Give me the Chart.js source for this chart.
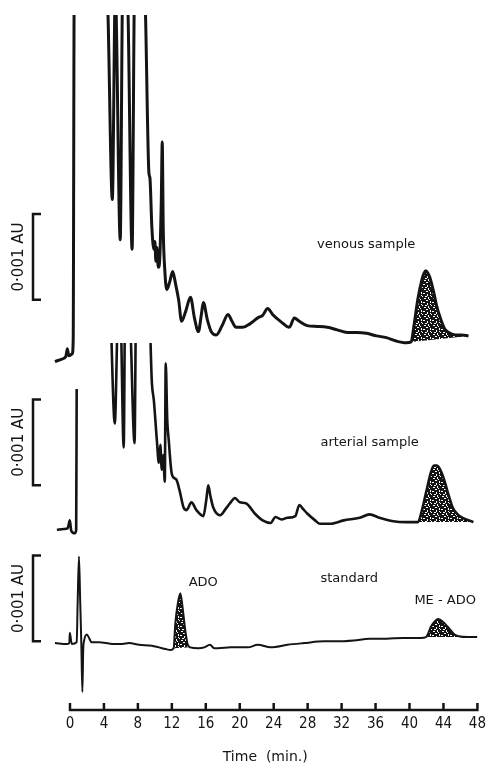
<!DOCTYPE html>
<html>
<head>
<meta charset="utf-8">
<title>HPLC chromatograms</title>
<script src="https://cdn.jsdelivr.net/npm/chart.js@4.4.1/dist/chart.umd.min.js"></script>
<style>
  body { margin: 0; background: #fff; }
  #wrap { width: 491px; height: 764px; }
</style>
</head>
<body>
<div id="wrap"><canvas id="chromChart" width="491" height="764"></canvas></div>
<script>
// time axis (min)
const timeTicks = [0, 4, 8, 12, 16, 20, 24, 28, 32, 36, 40, 44, 48];

// traces: [time (min), absorbance in mAU above the level the trace starts at]
// 4.3 / 2.6 = pen off scale, null = no visible trace
const venous = [
  [-1.77, 0], [-0.96, 0.03], [-0.49, 0.06], [-0.31, 0.15], [-0.14, 0.07], [0.27, 0.09],
  [0.38, 0.26], [0.50, 4.3], [4.35, 4.3], [4.99, 1.89], [5.34, 4.3], [5.92, 1.42],
  [6.21, 4.3], [6.74, 4.3], [7.32, 1.31], [7.61, 4.3], [8.78, 4.3], [9.30, 2.20],
  [9.42, 2.14], [9.65, 1.56], [9.88, 1.31], [10.00, 1.40], [10.12, 1.17], [10.23, 1.33],
  [10.41, 1.10], [10.58, 1.21], [10.76, 1.89], [10.87, 2.56], [10.99, 1.54], [11.17, 1.07],
  [11.40, 0.84], [11.75, 0.93], [12.10, 1.05], [12.45, 0.90], [12.80, 0.72], [13.15, 0.47],
  [13.61, 0.58], [14.20, 0.75], [14.66, 0.51], [15.13, 0.35], [15.48, 0.55], [15.71, 0.69],
  [16.18, 0.49], [16.64, 0.35], [17.23, 0.31], [17.93, 0.42], [18.62, 0.55], [19.09, 0.47],
  [19.56, 0.40], [20.37, 0.40], [21.19, 0.44], [22.12, 0.51], [22.70, 0.54], [23.29, 0.62],
  [23.87, 0.55], [24.80, 0.47], [25.85, 0.40], [26.43, 0.51], [27.02, 0.47], [27.95, 0.42],
  [29.14, 0.41], [30.31, 0.40], [31.49, 0.37], [32.66, 0.34], [33.78, 0.34], [34.94, 0.33],
  [36.11, 0.30], [37.27, 0.28], [38.44, 0.24], [39.60, 0.22], [40.19, 0.23], [40.54, 0.43],
  [40.97, 0.72], [41.47, 0.96], [41.70, 1.03], [41.94, 1.06], [42.17, 1.03], [42.40, 0.98],
  [42.87, 0.80], [43.22, 0.64], [43.69, 0.49], [44.15, 0.38], [44.62, 0.34], [45.44, 0.31],
  [46.14, 0.31], [46.95, 0.30]
];

const arterial = [
  [-1.54, -0.02], [-0.72, -0.01], [-0.26, 0], [-0.02, 0.09], [0.15, -0.03], [0.56, -0.06],
  [0.73, -0.02], [0.79, 1.62], [2.0, null], [4.76, 2.6], [5.28, 1.22], [5.69, 2.6],
  [5.92, 2.6], [6.33, 0.94], [6.50, 2.6], [6.97, 2.6], [7.61, 0.99], [7.79, 2.6],
  [9.30, 2.6], [9.65, 1.69], [9.88, 1.49], [10.23, 1.03], [10.47, 0.76], [10.64, 0.97],
  [10.82, 0.68], [10.99, 0.85], [11.17, 0.54], [11.28, 1.92], [11.46, 1.26], [11.63, 1.03],
  [11.98, 0.64], [12.33, 0.58], [12.56, 0.56], [12.91, 0.44], [13.38, 0.24], [13.73, 0.21],
  [14.31, 0.30], [14.90, 0.21], [15.71, 0.14], [16.06, 0.33], [16.29, 0.50], [16.53, 0.38],
  [16.88, 0.24], [17.69, 0.15], [18.39, 0.23], [18.86, 0.29], [19.44, 0.35], [20.02, 0.30],
  [20.72, 0.29], [21.77, 0.17], [22.70, 0.09], [23.64, 0.06], [24.22, 0.13], [24.92, 0.10],
  [25.62, 0.12], [26.55, 0.14], [27.02, 0.27], [27.48, 0.22], [27.95, 0.17], [28.88, 0.09],
  [29.46, 0.05], [30.63, 0.05], [32.26, 0.09], [34.13, 0.12], [35.29, 0.16], [36.46, 0.12],
  [38.09, 0.08], [39.60, 0.07], [41.00, 0.07], [41.47, 0.21], [41.94, 0.41], [42.52, 0.65],
  [42.87, 0.73], [43.22, 0.73], [43.57, 0.69], [44.03, 0.58], [44.50, 0.42], [45.08, 0.24],
  [45.67, 0.16], [46.25, 0.12], [47.53, 0.07]
];

const standard = [
  [-1.77, 0], [-0.37, -0.01], [-0.08, 0], [-0.02, 0.12], [0.21, -0.01], [0.79, 0.01],
  [0.91, 0.50], [1.06, 1.01], [1.20, 0.50], [1.34, -0.02], [1.46, -0.57], [1.56, -0.08],
  [1.67, 0.03], [1.99, 0.10], [2.25, 0.06], [2.54, 0.01], [3.47, 0.01], [4.29, 0],
  [5.22, -0.01], [6.15, -0.01], [6.97, 0], [8.13, -0.02], [9.65, -0.03], [10.47, -0.05],
  [11.28, -0.07], [11.86, -0.08], [12.21, -0.06], [12.41, 0.23], [12.72, 0.47], [13.00, 0.58],
  [13.26, 0.42], [13.58, 0.15], [13.85, -0.01], [14.16, -0.05], [15.13, -0.06], [15.83, -0.05],
  [16.49, -0.02], [16.99, -0.06], [17.46, -0.06], [18.97, -0.05], [19.79, -0.05], [20.96, -0.05],
  [22.12, -0.02], [23.64, -0.05], [25.62, -0.02], [27.60, 0], [29.93, 0.02], [31.45, 0.02],
  [33.43, 0.03], [35.29, 0.05], [37.27, 0.05], [39.25, 0.06], [41.35, 0.06], [41.94, 0.07],
  [42.52, 0.19], [42.87, 0.24], [43.34, 0.28], [44.03, 0.24], [44.50, 0.19], [44.85, 0.15],
  [45.31, 0.10], [45.78, 0.08], [46.95, 0.07], [48.0, 0.07]
];

// where each trace starts on the common absorbance scale (mAU)
const traceOffsets = [4.06, 2.12, 0.78];

// shaded (stippled) peaks: [trace index, from, to] in min
const shadedPeaks = [[0, 40.19, 46.95], [1, 41.00, 47.53], [2, 12.21, 14.16], [2, 41.94, 46.95]];

// 0.001 AU bars: lower end in mAU above each trace start
const scaleBarFrom = [0.72, 0.50, 0.02];

// text labels: [text, trace index, time, mAU above trace start]
const peakLabels = [
  ['venous sample', 0, 34.9, 1.36],
  ['arterial sample', 1, 35.3, 1.00],
  ['standard', 2, 32.9, 0.75],
  ['ADO', 2, 15.7, 0.70],
  ['ME - ADO', 2, 44.2, 0.49]
];

const traces = [venous, arterial, standard];
const ink = '#141414';

// black with scattered white specks, like the hand stippling
function stipple() {
  const c = document.createElement('canvas');
  c.width = 9; c.height = 9;
  const g = c.getContext('2d');
  g.fillStyle = ink;
  g.fillRect(0, 0, 9, 9);
  g.fillStyle = '#fff';
  [[1, 1, 2, 1], [5, 0, 1, 2], [3, 3, 2, 1], [7, 4, 1, 2], [0, 5, 2, 1],
   [4, 6, 1, 2], [8, 8, 1, 1], [2, 8, 2, 1], [6, 2, 1, 1], [7, 7, 1, 1]]
    .forEach(r => g.fillRect(r[0], r[1], r[2], r[3]));
  return g.createPattern(c, 'repeat');
}

const toPoints = (trace, off) => trace.map(p => ({ x: p[0], y: p[1] === null ? null : p[1] + off }));

const datasets = [
  { data: toPoints(venous, traceOffsets[0]), borderWidth: 3 },
  { data: toPoints(arterial, traceOffsets[1]), borderWidth: 2.6,
    clip: { left: 0, right: 0, bottom: 0, top: -328 } },
  { data: toPoints(standard, traceOffsets[2]), borderWidth: 2 }
].map(d => Object.assign(d, { borderColor: ink, pointRadius: 0, fill: false, cubicInterpolationMode: 'monotone' }));

const pattern = stipple();
shadedPeaks.forEach(([ti, a, b]) => {
  const part = traces[ti].filter(p => p[0] >= a && p[0] <= b);
  const pts = toPoints(part, traceOffsets[ti]);
  datasets.push({
    data: pts, borderWidth: 0, pointRadius: 0, backgroundColor: pattern,
    cubicInterpolationMode: 'monotone', fill: '+1'
  });
  datasets.push({
    data: [pts[0], pts[pts.length - 1]], borderWidth: 0, pointRadius: 0, fill: false
  });
});

const decor = {
  id: 'decor',
  afterDatasetsDraw(chart) {
    const { ctx, chartArea, scales: { x, y } } = chart;
    ctx.save();
    ctx.strokeStyle = ink;
    ctx.fillStyle = ink;
    ctx.lineWidth = 2.5;

    // time axis, ticks pointing up
    const yb = chartArea.bottom;
    ctx.beginPath();
    ctx.moveTo(x.getPixelForValue(timeTicks[0]) - 1, yb);
    ctx.lineTo(x.getPixelForValue(timeTicks[timeTicks.length - 1]) + 1, yb);
    timeTicks.forEach(t => {
      const px = x.getPixelForValue(t);
      ctx.moveTo(px, yb + 1);
      ctx.lineTo(px, yb - 7);
    });
    ctx.stroke();

    // 0.001 AU bars
    const bx = chartArea.left - 20;
    scaleBarFrom.forEach((v, i) => {
      const y0 = y.getPixelForValue(v + traceOffsets[i]);
      const y1 = y.getPixelForValue(v + 1 + traceOffsets[i]);
      ctx.beginPath();
      ctx.moveTo(bx + 8, y1);
      ctx.lineTo(bx, y1);
      ctx.lineTo(bx, y0);
      ctx.lineTo(bx + 8, y0);
      ctx.stroke();
      ctx.save();
      ctx.translate(bx - 14, (y0 + y1) / 2);
      ctx.rotate(-Math.PI / 2);
      ctx.font = '15px "DejaVu Sans"';
      ctx.textAlign = 'center';
      ctx.textBaseline = 'middle';
      ctx.fillText('0\u00b7001 AU', 0, 0);
      ctx.restore();
    });

    // peak / trace labels
    ctx.font = '13px "DejaVu Sans"';
    ctx.textAlign = 'center';
    ctx.textBaseline = 'middle';
    peakLabels.forEach(([text, ti, t, v]) => {
      ctx.fillText(text, x.getPixelForValue(t), y.getPixelForValue(v + traceOffsets[ti]));
    });
    ctx.restore();
  }
};

new Chart(document.getElementById('chromChart'), {
  type: 'line',
  data: { datasets },
  options: {
    responsive: false,
    devicePixelRatio: 1,
    animation: false,
    layout: { padding: { top: 15, left: 53, right: 9, bottom: 0 } },
    plugins: { legend: { display: false }, tooltip: { enabled: false } },
    scales: {
      x: {
        type: 'linear',
        min: -2,
        max: 48,
        grid: { display: false, drawTicks: false },
        border: { display: false },
        afterBuildTicks: s => { s.ticks = timeTicks.map(v => ({ value: v })); },
        afterFit: s => { s.height = 54; },
        ticks: {
          color: ink,
          padding: 5,
          maxRotation: 0,
          autoSkip: false,
          font: { family: '"DejaVu Sans Condensed", "DejaVu Sans", sans-serif', size: 15 }
        },
        title: {
          display: true,
          text: 'Time  (min.)',
          color: ink,
          padding: { top: 0, bottom: 0 },
          font: { family: '"DejaVu Sans"', size: 14, lineHeight: 1 }
        }
      },
      y: { display: false, min: 0, max: 8.1 }
    }
  },
  plugins: [decor]
});
</script>
</body>
</html>
